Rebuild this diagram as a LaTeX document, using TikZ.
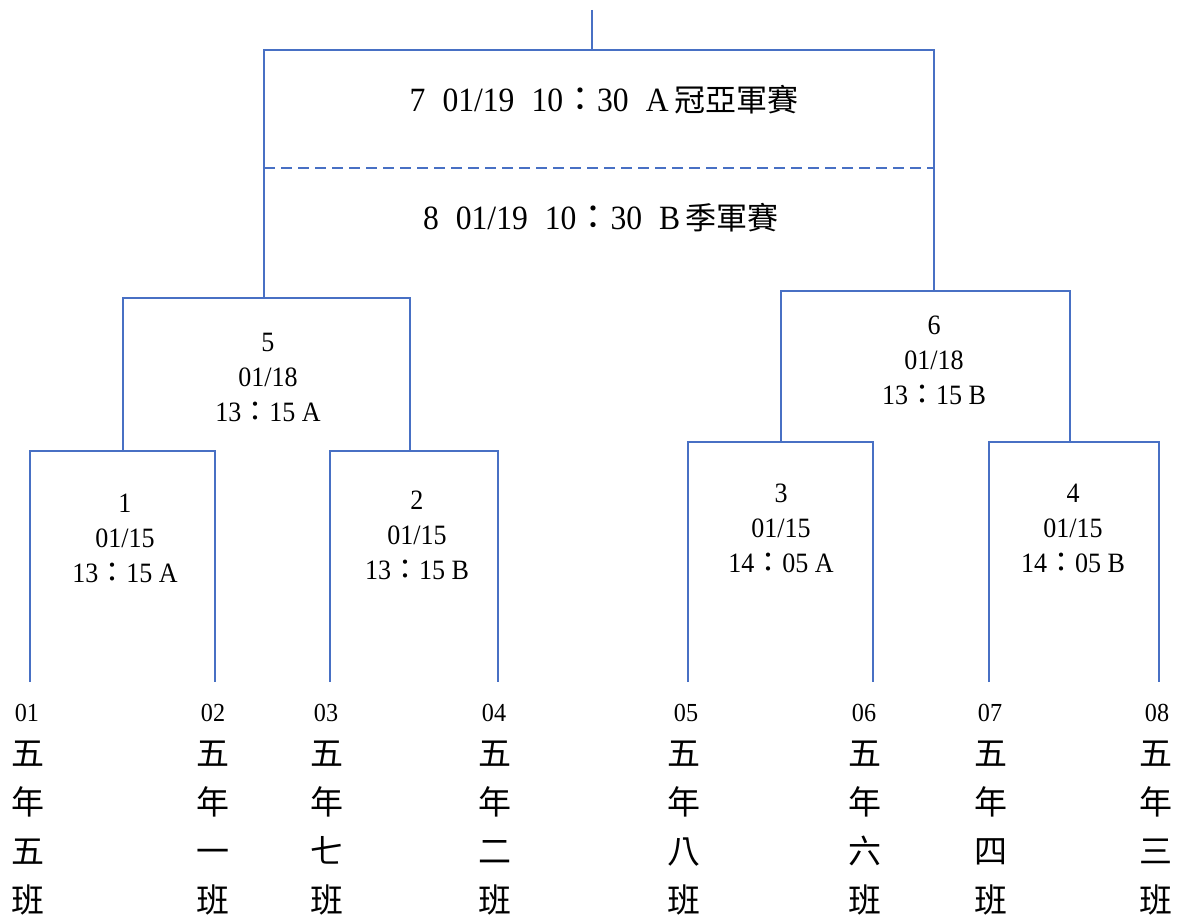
\documentclass[tikz,border=0pt]{standalone}
\usepackage{fontspec}
\setmainfont{Liberation Serif}[FakeStretch=0.93]
\newfontfamily\cjk{Noto Sans CJK TC}
\newcommand{\fc}{{\cjk ：}}
\newcommand{\wsp}{\hspace{0.5em}}
\definecolor{linecol}{RGB}{72,112,196}
\tikzset{
  bline/.style={draw=linecol, line width=1.6pt},
  dline/.style={draw=linecol, line width=1.6pt, dash pattern=on 11pt off 6pt},
  lbl/.style={align=center, inner sep=0pt, font=\fontsize{28}{35}\selectfont},
  toplbl/.style={inner sep=0pt, font=\fontsize{34}{40}\selectfont},
  numlbl/.style={inner sep=0pt, font=\fontsize{26}{32}\selectfont},
  teamlbl/.style={align=center, inner sep=0pt, font=\cjk\fontsize{33}{49}\selectfont}
}
\begin{document}
\begin{tikzpicture}[x=1pt,y=-1pt]
\useasboundingbox (0,0) rectangle (1180,917);
% coordinates
\coordinate (root) at (592,10);
\coordinate (g7) at (592,50);
\coordinate (g5) at (264,298);
\coordinate (g6) at (934,291);
\coordinate (d1) at (264,168);
\coordinate (d2) at (934,168);
\coordinate (g1) at (123,451);
\coordinate (g2) at (410,451);
\coordinate (g3) at (781,442);
\coordinate (g4) at (1070,442);
\coordinate (t1) at (30,682);
\coordinate (t2) at (215,682);
\coordinate (t3) at (330,682);
\coordinate (t4) at (498,682);
\coordinate (t5) at (688,682);
\coordinate (t6) at (873,682);
\coordinate (t7) at (989,682);
\coordinate (t8) at (1159,682);
% bracket lines
\draw[bline] (root) -- (g7);
\draw[bline] (g5) |- (g7) -| (g6);
\draw[dline] (d1) -- (d2);
\draw[bline] (g1) |- (g5) -| (g2);
\draw[bline] (g3) |- (g6) -| (g4);
\draw[bline] (t1) |- (g1) -| (t2);
\draw[bline] (t3) |- (g2) -| (t4);
\draw[bline] (t5) |- (g3) -| (t6);
\draw[bline] (t7) |- (g4) -| (t8);
% match labels
\node[toplbl] (m7) at (604,100) {7\wsp01/19\wsp10\fc30\wsp A\,{\cjk\fontsize{31}{40}\selectfont 冠亞軍賽}};
\node[toplbl] (m8) at (601,218) {8\wsp01/19\wsp10\fc30\wsp B\,{\cjk\fontsize{31}{40}\selectfont 季軍賽}};
\node[lbl] (m5) at (268,377) {5\\01/18\\13\fc15 A};
\node[lbl] (m6) at (934,360) {6\\01/18\\13\fc15 B};
\node[lbl] (m1) at (125,538) {1\\01/15\\13\fc15 A};
\node[lbl] (m2) at (417,535) {2\\01/15\\13\fc15 B};
\node[lbl] (m3) at (781,528) {3\\01/15\\14\fc05 A};
\node[lbl] (m4) at (1073,528) {4\\01/15\\14\fc05 B};
% team labels
\node[numlbl] (n1) at (27,713) {01};
\node[numlbl] (n2) at (213,713) {02};
\node[numlbl] (n3) at (326,713) {03};
\node[numlbl] (n4) at (494,713) {04};
\node[numlbl] (n5) at (686,713) {05};
\node[numlbl] (n6) at (864,713) {06};
\node[numlbl] (n7) at (990,713) {07};
\node[numlbl] (n8) at (1157,713) {08};
\node[teamlbl] (c1) at (28,828) {五\\年\\五\\班};
\node[teamlbl] (c2) at (213,828) {五\\年\\一\\班};
\node[teamlbl] (c3) at (327,828) {五\\年\\七\\班};
\node[teamlbl] (c4) at (495,828) {五\\年\\二\\班};
\node[teamlbl] (c5) at (684,828) {五\\年\\八\\班};
\node[teamlbl] (c6) at (865,828) {五\\年\\六\\班};
\node[teamlbl] (c7) at (991,828) {五\\年\\四\\班};
\node[teamlbl] (c8) at (1156,828) {五\\年\\三\\班};
\end{tikzpicture}
\end{document}
